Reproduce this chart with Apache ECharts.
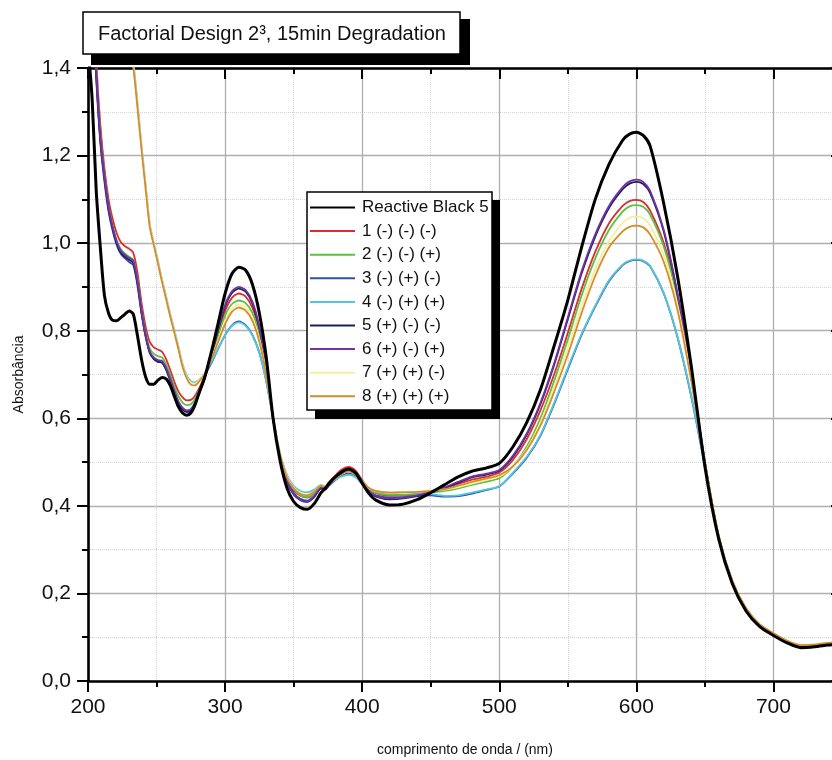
<!DOCTYPE html>
<html><head><meta charset="utf-8">
<script src="https://cdn.jsdelivr.net/npm/echarts@6.0.0/dist/echarts.min.js"></script>
<style>html,body{margin:0;padding:0;background:#fff}#c{width:832px;height:760px}</style>
</head><body><div id="c"></div>
<script>
const wavelengths = [200,203,206,209,212,215,218,221,224,227,230,233,236,239,242,245,248,251,254,257,260,263,266,269,272,275,278,281,
 285,290,295,300,305,310,315,320,325,330,335,340,345,350,355,360,365,370,
 373,376,
 380,385,390,395,400,405,410,
 420,430,440,450,460,470,480,490,500,510,520,530,540,550,560,570,580,590,
 595,600,605,610,
 620,630,640,650,660,670,680,690,700,710,720,730,740,750];

const rb5 = [1.45,1.33,1.12,0.99,0.88,0.840,0.824,0.823,0.830,0.838,0.845,0.838,0.790,0.735,0.695,0.678,0.678,0.687,0.693,0.690,0.675,0.650,0.626,0.612,0.607,0.612,0.630,0.658,
 0.692,0.752,0.818,0.885,0.930,0.945,0.938,0.905,0.840,0.740,0.600,0.505,0.442,0.410,0.396,0.392,0.405,0.430,
 0.440,0.452,
 0.465,0.477,0.484,0.476,0.452,0.428,0.413,
 0.402,0.404,0.414,0.430,0.448,0.466,0.479,0.486,0.497,0.535,0.590,0.665,0.765,0.870,0.990,1.100,1.180,1.235,
 1.249,1.253,1.246,1.222,
 1.090,0.925,0.720,0.490,0.325,0.222,0.160,0.124,0.104,0.087,0.076,0.078,0.082,0.085];

const run1 = [1.95,1.65,1.42,1.27,1.17,1.100,1.055,1.022,1.002,0.993,0.987,0.978,0.935,0.865,0.810,0.775,0.762,0.757,0.752,0.735,0.710,0.683,0.661,0.648,0.641,0.642,0.651,0.668,
 0.695,0.742,0.795,0.845,0.875,0.885,0.878,0.852,0.800,0.720,0.600,0.515,0.462,0.436,0.423,0.419,0.428,0.447,
 0.443,0.455,
 0.468,0.483,0.489,0.481,0.459,0.439,0.429,
 0.423,0.424,0.427,0.432,0.440,0.450,0.460,0.466,0.476,0.505,0.552,0.618,0.700,0.795,0.895,0.980,1.045,1.085,
 1.096,1.099,1.094,1.075,
 1.000,0.880,0.705,0.500,0.332,0.228,0.165,0.128,0.108,0.091,0.081,0.082,0.086,0.088];

const run2 = [1.90,1.62,1.40,1.25,1.155,1.085,1.040,1.006,0.986,0.976,0.969,0.962,0.920,0.850,0.796,0.760,0.747,0.742,0.739,0.723,0.699,0.672,0.650,0.636,0.630,0.632,0.644,0.663,
 0.693,0.740,0.790,0.835,0.861,0.869,0.863,0.840,0.790,0.712,0.600,0.515,0.463,0.438,0.424,0.420,0.428,0.445,
 0.441,0.452,
 0.464,0.478,0.483,0.476,0.456,0.438,0.430,
 0.425,0.425,0.427,0.430,0.434,0.440,0.448,0.455,0.463,0.490,0.535,0.600,0.685,0.780,0.880,0.965,1.030,1.072,
 1.084,1.087,1.083,1.065,
 0.992,0.873,0.700,0.500,0.332,0.228,0.165,0.128,0.108,0.091,0.081,0.082,0.086,0.088];

const run3 = [1.85,1.57,1.375,1.23,1.14,1.072,1.028,0.995,0.975,0.965,0.957,0.950,0.905,0.840,0.787,0.751,0.737,0.730,0.727,0.711,0.686,0.660,0.637,0.623,0.617,0.620,0.636,0.660,
 0.695,0.726,0.759,0.790,0.812,0.821,0.813,0.790,0.750,0.685,0.600,0.512,0.458,0.430,0.416,0.412,0.422,0.440,
 0.437,0.447,
 0.458,0.469,0.474,0.467,0.450,0.433,0.424,
 0.419,0.420,0.423,0.424,0.421,0.422,0.428,0.436,0.444,0.474,0.510,0.560,0.632,0.712,0.790,0.855,0.913,0.950,
 0.959,0.962,0.959,0.947,
 0.885,0.785,0.650,0.490,0.330,0.226,0.164,0.127,0.107,0.090,0.080,0.081,0.085,0.087];

const run4 = [2.6,2.5,2.35,2.2,2.06,1.93,1.82,1.71,1.62,1.54,1.47,1.415,1.325,1.225,1.135,1.045,1.000,0.960,0.917,0.878,0.838,0.802,0.764,0.724,0.698,0.685,0.682,0.688,
 0.702,0.729,0.760,0.790,0.811,0.819,0.811,0.789,0.749,0.685,0.602,0.522,0.472,0.446,0.434,0.431,0.437,0.448,
 0.444,0.451,
 0.459,0.467,0.471,0.466,0.452,0.439,0.433,
 0.430,0.431,0.430,0.427,0.423,0.424,0.430,0.437,0.445,0.476,0.512,0.562,0.635,0.715,0.792,0.857,0.915,0.951,
 0.960,0.963,0.960,0.948,
 0.886,0.786,0.652,0.492,0.332,0.228,0.166,0.129,0.109,0.092,0.082,0.083,0.087,0.089];

const run5 = [1.86,1.58,1.385,1.235,1.148,1.078,1.033,0.999,0.978,0.969,0.962,0.955,0.910,0.842,0.788,0.750,0.735,0.729,0.727,0.711,0.686,0.659,0.634,0.620,0.614,0.617,0.632,0.655,
 0.690,0.743,0.802,0.855,0.886,0.896,0.889,0.862,0.806,0.722,0.600,0.510,0.455,0.426,0.413,0.409,0.420,0.440,
 0.437,0.449,
 0.462,0.477,0.483,0.474,0.452,0.432,0.421,
 0.415,0.417,0.422,0.430,0.440,0.453,0.465,0.471,0.480,0.512,0.562,0.632,0.722,0.826,0.930,1.015,1.080,1.123,
 1.136,1.140,1.135,1.115,
 1.026,0.882,0.700,0.498,0.330,0.226,0.164,0.127,0.107,0.090,0.080,0.081,0.085,0.087];

const run6 = [1.88,1.60,1.39,1.24,1.152,1.082,1.037,1.003,0.982,0.973,0.966,0.960,0.915,0.846,0.791,0.753,0.739,0.733,0.731,0.715,0.690,0.663,0.638,0.624,0.618,0.621,0.635,0.657,
 0.691,0.746,0.806,0.859,0.890,0.900,0.893,0.866,0.810,0.725,0.600,0.511,0.456,0.428,0.414,0.410,0.422,0.442,
 0.439,0.451,
 0.464,0.479,0.485,0.476,0.454,0.434,0.423,
 0.417,0.419,0.424,0.432,0.442,0.455,0.467,0.473,0.482,0.515,0.565,0.635,0.725,0.830,0.935,1.020,1.085,1.128,
 1.141,1.145,1.140,1.120,
 1.030,0.885,0.702,0.500,0.331,0.227,0.165,0.128,0.108,0.091,0.081,0.082,0.086,0.088];

const run7 = [2.55,2.45,2.30,2.16,2.03,1.91,1.80,1.70,1.61,1.53,1.46,1.408,1.318,1.220,1.130,1.042,0.998,0.957,0.914,0.875,0.835,0.798,0.760,0.720,0.694,0.681,0.679,0.687,
 0.702,0.737,0.778,0.820,0.850,0.860,0.853,0.828,0.780,0.703,0.602,0.520,0.468,0.442,0.429,0.426,0.433,0.447,
 0.443,0.452,
 0.462,0.473,0.478,0.472,0.456,0.441,0.434,
 0.430,0.431,0.432,0.434,0.437,0.443,0.451,0.459,0.467,0.491,0.530,0.590,0.670,0.760,0.855,0.940,1.005,1.046,
 1.058,1.061,1.057,1.040,
 0.972,0.858,0.692,0.498,0.332,0.228,0.166,0.129,0.109,0.092,0.082,0.083,0.087,0.089];

const run8 = [2.5,2.4,2.26,2.12,1.99,1.88,1.77,1.68,1.59,1.52,1.45,1.402,1.312,1.215,1.125,1.038,0.995,0.954,0.911,0.872,0.832,0.795,0.757,0.717,0.691,0.677,0.675,0.684,
 0.700,0.735,0.775,0.815,0.843,0.853,0.846,0.822,0.775,0.700,0.601,0.519,0.466,0.440,0.427,0.424,0.432,0.446,
 0.442,0.451,
 0.462,0.473,0.478,0.472,0.456,0.441,0.434,
 0.430,0.431,0.432,0.434,0.438,0.446,0.455,0.462,0.470,0.490,0.527,0.583,0.660,0.745,0.840,0.925,0.990,1.027,
 1.037,1.040,1.036,1.020,
 0.957,0.847,0.686,0.497,0.332,0.228,0.166,0.129,0.109,0.092,0.082,0.083,0.087,0.089];

const seriesNames = ['Reactive Black 5','1 (-) (-) (-)','2 (-) (-) (+)','3 (-) (+) (-)','4 (-) (+) (+)','5 (+) (-) (-)','6 (+) (-) (+)','7 (+) (+) (-)','8 (+) (+) (+)'];
const seriesValues = [rb5, run1, run2, run3, run4, run5, run6, run7, run8];
const seriesColors = ['#000000','#dd2c2c','#5cc142','#2f4fae','#52c6de','#1b1f5e','#7132a3','#f4ef9c','#d98a2a'];
const seriesWidths = [3,1.8,1.8,1.8,1.8,1.8,1.8,1.8,1.8];

const FONT = 'Arial, "Liberation Sans", sans-serif';
const fmt = v => v.toFixed(1).replace('.', ',');

const series = [];
// draw coloured runs first, reference dye last (on top)
const order = [1,2,3,4,5,6,7,8,0];
order.forEach(i => {
  series.push({
    name: seriesNames[i],
    type: 'line',
    data: wavelengths.map((w, k) => [w, seriesValues[i][k]]),
    symbol: 'none',
    smooth: 0.25,
    clip: true,
    z: i === 0 ? 3 : 2,
    lineStyle: { color: seriesColors[i], width: seriesWidths[i] },
    itemStyle: { color: seriesColors[i] }
  });
});

const chart = echarts.init(document.getElementById('c'), null, { renderer: 'canvas' });
const axisLineStyle = { color: '#000', width: 2.6 };
chart.setOption({
  animation: false,
  backgroundColor: '#fff',
  grid: { left: 88, top: 68, width: 754, height: 613, outerBoundsMode: 'none', containLabel: false },
  xAxis: [
    {
      type: 'value', position: 'bottom', min: 200, max: 750, interval: 100,
      axisLine: { show: true, onZero: false, lineStyle: axisLineStyle },
      axisTick: { show: true, inside: false, length: 11, lineStyle: { color: '#000', width: 2 } },
      minorTick: { show: true, splitNumber: 2, length: 6, lineStyle: { color: '#000', width: 2 } },
      splitLine: { show: true, lineStyle: { color: '#b3aeae', width: 1.3 } },
      minorSplitLine: { show: true, lineStyle: { color: '#d4d4d4', width: 1, type: 'dotted' } },
      axisLabel: { fontSize: 21, margin: 16, color: '#111', fontFamily: FONT, showMaxLabel: false },
      name: 'comprimento de onda / (nm)', nameLocation: 'middle', nameGap: 62,
      nameTextStyle: { fontSize: 14, color: '#111', fontFamily: FONT }
    },
    {
      type: 'value', position: 'top', min: 200, max: 750, interval: 100,
      axisLine: { show: true, onZero: false, lineStyle: axisLineStyle },
      axisTick: { show: true, inside: true, length: 11, lineStyle: { color: '#000', width: 2 } },
      minorTick: { show: true, splitNumber: 2, length: 6, lineStyle: { color: '#000', width: 2 } },
      splitLine: { show: false }, axisLabel: { show: false }
    }
  ],
  yAxis: [
    {
      type: 'value', position: 'left', min: 0, max: 1.4, interval: 0.2,
      axisLine: { show: true, onZero: false, lineStyle: axisLineStyle },
      axisTick: { show: true, inside: false, length: 11, lineStyle: { color: '#000', width: 2 } },
      minorTick: { show: true, splitNumber: 2, length: 6, lineStyle: { color: '#000', width: 2 } },
      splitLine: { show: true, lineStyle: { color: '#b3aeae', width: 1.3 } },
      minorSplitLine: { show: true, lineStyle: { color: '#d4d4d4', width: 1, type: 'dotted' } },
      axisLabel: { fontSize: 21, margin: 17, color: '#111', fontFamily: FONT, formatter: fmt },
      name: 'Absorbância', nameLocation: 'middle', nameGap: 62,
      nameTextStyle: { fontSize: 14, color: '#111', fontFamily: FONT }
    },
    {
      type: 'value', position: 'right', min: 0, max: 1.4, interval: 0.2,
      axisLine: { show: true, onZero: false, lineStyle: axisLineStyle },
      axisTick: { show: true, inside: true, length: 11, lineStyle: { color: '#000', width: 2 } },
      minorTick: { show: true, splitNumber: 2, length: 6, lineStyle: { color: '#000', width: 2 } },
      splitLine: { show: false }, axisLabel: { show: false }
    }
  ],
  legend: {
    data: seriesNames,
    orient: 'vertical', left: 307, top: 192,
    padding: [6, 0, 0, 2],
    itemWidth: 45, itemHeight: 14, itemGap: 4.6,
    itemStyle: { opacity: 0 },
    textStyle: { fontSize: 17, lineHeight: 19, color: '#111', fontFamily: FONT, padding: [0, 0, 0, 2] },
    selectedMode: false,
    z: 6
  },
  graphic: [
    { type: 'rect', z: 4, shape: { x: 315, y: 200, width: 185, height: 219 }, style: { fill: '#000' } },
    { type: 'rect', z: 5, shape: { x: 307, y: 192, width: 185, height: 218 }, style: { fill: '#fff', stroke: '#000', lineWidth: 1.5 } },
    { type: 'rect', z: 4, shape: { x: 91, y: 19, width: 379, height: 46 }, style: { fill: '#000' } },
    { type: 'rect', z: 5, shape: { x: 83, y: 12, width: 377, height: 42 }, style: { fill: '#fff', stroke: '#000', lineWidth: 1.5 } },
    { type: 'text', z: 6, x: 272, y: 34, style: { text: 'Factorial Design 2³, 15min Degradation', fontSize: 20, fontFamily: FONT, fill: '#111', align: 'center', verticalAlign: 'middle' } }
  ],
  series: series
});
</script>
</body></html>
